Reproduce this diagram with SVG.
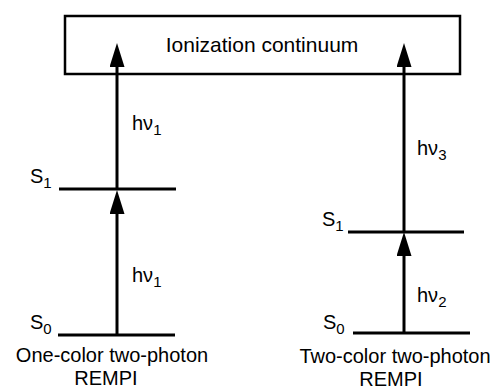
<svg xmlns="http://www.w3.org/2000/svg" width="499" height="390" viewBox="0 0 499 390">
<style>
text{font-family:"Liberation Sans",Arial,sans-serif;fill:#000}
.big{font-size:21px}
.cap{font-size:20px}
.lab{font-size:20px}
.sub{font-size:15px}
.lvl{stroke:#000;stroke-width:3;fill:none}
.arr{stroke:#000;stroke-width:3;fill:none;marker-end:url(#ah)}
</style>
<defs>
<marker id="ah" markerUnits="userSpaceOnUse" markerWidth="24" markerHeight="15" refX="0" refY="7.5" orient="auto" viewBox="0 0 24 15">
<path d="M0,0 L24,7.5 L0,15 Z" fill="#000"/>
</marker>
</defs>
<g id="continuum">
<rect x="65" y="16" width="395" height="58" fill="#fff" stroke="#000" stroke-width="2.5"/>
<text class="big" x="262" y="52" text-anchor="middle">Ionization continuum</text>
</g>
<g id="left-S1">
<line class="lvl" x1="59" y1="189" x2="176" y2="189"/>
<text class="lab" x="30" y="183">S<tspan class="sub" dy="5">1</tspan></text>
</g>
<g id="left-S0">
<line class="lvl" x1="58" y1="335" x2="175" y2="335"/>
<text class="lab" x="30" y="329">S<tspan class="sub" dy="5">0</tspan></text>
</g>
<g id="right-S1">
<line class="lvl" x1="348" y1="232" x2="464" y2="232"/>
<text class="lab" x="322" y="226">S<tspan class="sub" dy="5">1</tspan></text>
</g>
<g id="right-S0">
<line class="lvl" x1="353" y1="333" x2="470" y2="333"/>
<text class="lab" x="323" y="329">S<tspan class="sub" dy="5">0</tspan></text>
</g>
<g id="connectors">
<line class="arr" x1="117" y1="189" x2="117" y2="67"/>
<line class="arr" x1="117" y1="335" x2="117" y2="214"/>
<line class="arr" x1="404" y1="232" x2="404" y2="67"/>
<line class="arr" x1="404" y1="333" x2="404" y2="256"/>
</g>
<g id="labels">
<text class="lab" x="132" y="130">hν<tspan class="sub" dy="5">1</tspan></text>
<text class="lab" x="132" y="282">hν<tspan class="sub" dy="5">1</tspan></text>
<text class="lab" x="417" y="155">hν<tspan class="sub" dy="5">3</tspan></text>
<text class="lab" x="417" y="302">hν<tspan class="sub" dy="5">2</tspan></text>
</g>
<g id="captions">
<text class="cap" x="112" y="362" text-anchor="middle">One-color two-photon</text>
<text class="cap" x="106" y="385" text-anchor="middle">REMPI</text>
<text class="cap" x="395" y="363" text-anchor="middle">Two-color two-photon</text>
<text class="cap" x="391" y="386" text-anchor="middle">REMPI</text>
</g>
</svg>
